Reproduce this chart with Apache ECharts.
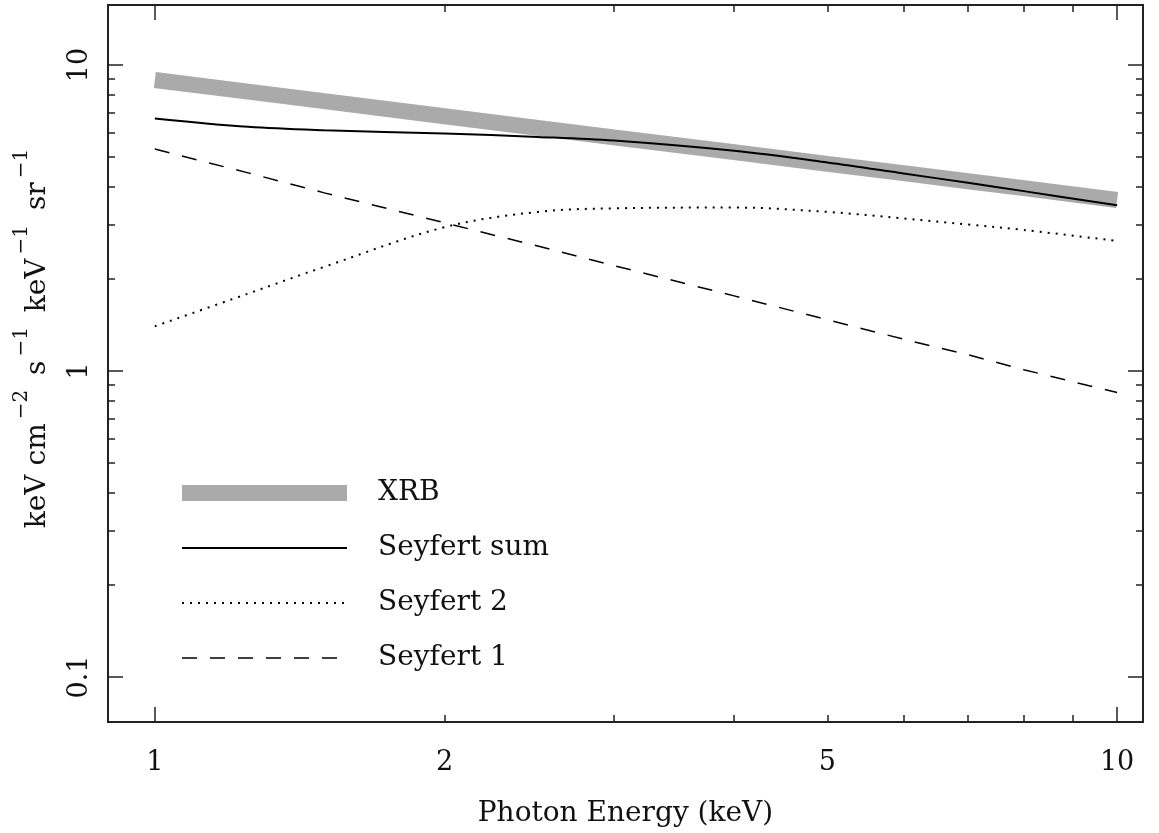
<!DOCTYPE html>
<html>
<head>
<meta charset="utf-8">
<script src="https://cdn.jsdelivr.net/npm/echarts@6/dist/echarts.min.js"></script>
<style>
  html, body { margin: 0; padding: 0; background: #fff; }
  #chart { width: 1159px; height: 833px; }
</style>
</head>
<body>
<div id="chart"></div>
<script>
// photon energy grid (keV) shared by all curves
const energy = [1, 1.25, 1.5, 2, 2.5, 3, 4, 5, 6, 7, 8, 10];

// keV cm^-2 s^-1 keV^-1 sr^-1
const xrb = [8.93, 8.18, 7.62, 6.80, 6.23, 5.80, 5.19, 4.75, 4.43, 4.17, 3.96, 3.62];
const seyfertSum = [6.69, 6.28, 6.12, 5.97, 5.82, 5.66, 5.24, 4.80, 4.42, 4.12, 3.87, 3.48];
const seyfert2 = [1.40, 1.79, 2.19, 2.95, 3.31, 3.40, 3.42, 3.31, 3.15, 3.01, 2.89, 2.66];
const seyfert1 = [5.31, 4.44, 3.82, 3.05, 2.56, 2.21, 1.76, 1.47, 1.27, 1.13, 1.01, 0.85];

const xMajor = [1, 10];
const xMinor = [2, 3, 4, 5, 6, 7, 8, 9];
const xLabels = [1, 2, 5, 10];
const yMajor = [0.1, 1, 10];
const yMinor = [0.2, 0.3, 0.4, 0.5, 0.6, 0.7, 0.8, 0.9, 2, 3, 4, 5, 6, 7, 8, 9];
const yLabels = [0.1, 1, 10];

const FONT = '"DejaVu Serif", "Liberation Serif", serif';
const INK = '#222';

const pairs = (ys) => energy.map((e, i) => [e, ys[i]]);
const fmt = (v) => String(+(+v).toPrecision(3));

const chart = echarts.init(document.getElementById('chart'), null, { renderer: 'canvas' });

function xAxisDef(position, ticks, len, labels, extra) {
    return Object.assign({
        type: 'log',
        logBase: 10,
        position: position,
        min: 0.894,
        max: 10.64,
        axisLine: { show: true, lineStyle: { color: INK, width: 2 } },
        axisTick: { show: true, inside: true, length: len, customValues: ticks, lineStyle: { color: INK, width: 1.5 } },
        axisLabel: labels
            ? { show: true, customValues: labels, formatter: fmt, margin: 27, fontFamily: FONT, fontSize: 27, color: '#111' }
            : { show: false },
        splitLine: { show: false },
        minorTick: { show: false },
    }, extra || {});
}

function yAxisDef(position, ticks, len, labels, extra) {
    return Object.assign({
        type: 'log',
        logBase: 10,
        position: position,
        min: 0.0713,
        max: 15.7,
        axisLine: { show: true, lineStyle: { color: INK, width: 2 } },
        axisTick: { show: true, inside: true, length: len, customValues: ticks, lineStyle: { color: INK, width: 1.5 } },
        axisLabel: labels
            ? { show: true, customValues: labels, formatter: fmt, rotate: 90, margin: 15, fontFamily: FONT, fontSize: 27, color: '#111' }
            : { show: false },
        splitLine: { show: false },
        minorTick: { show: false },
    }, extra || {});
}

const option = {
    backgroundColor: '#fff',
    animation: false,
    grid: { left: 108, right: 16, top: 5, bottom: 111, containLabel: false, outerBoundsMode: 'none' },
    legend: {
        orient: 'vertical',
        left: 169,
        top: 474,
        itemWidth: 165,
        itemHeight: 16,
        itemGap: 27,
        selectedMode: false,
        itemStyle: { opacity: 0 },
        lineStyle: { width: 'inherit' },
        textStyle: { fontFamily: FONT, fontSize: 28, color: '#111', padding: [0, 0, 0, 26] },
        data: ['XRB', 'Seyfert sum', 'Seyfert 2', 'Seyfert 1'],
    },
    xAxis: [
        xAxisDef('bottom', xMajor, 15, xLabels, {
            name: 'Photon Energy (keV)',
            nameLocation: 'middle',
            nameGap: 78,
            nameTextStyle: { fontFamily: FONT, fontSize: 28, color: '#111' },
        }),
        xAxisDef('bottom', xMinor, 7, null),
        xAxisDef('top', xMajor, 15, null),
        xAxisDef('top', xMinor, 7, null),
    ],
    yAxis: [
        yAxisDef('left', yMajor, 15, yLabels, {
            name: '{t|keV cm}{s|−2}{t| s}{s|−1}{t| keV}{s|−1}{t| sr}{s|−1}',
            nameLocation: 'middle',
            nameGap: 56,
            nameRotate: 90,
            nameTextStyle: {
                fontFamily: FONT,
                color: '#111',
                padding: [0, 0, 0, 56],
                rich: {
                    t: { fontFamily: FONT, fontSize: 28, lineHeight: 40, verticalAlign: 'bottom', color: '#111' },
                    s: { fontFamily: FONT, fontSize: 20, lineHeight: 20, padding: [0, 6, 0, 4], verticalAlign: 'top', color: '#111' },
                },
            },
        }),
        yAxisDef('left', yMinor, 7, null),
        yAxisDef('right', yMajor, 15, null),
        yAxisDef('right', yMinor, 7, null),
    ],
    series: [
        {
            name: 'XRB',
            type: 'line',
            symbol: 'none',
            color: '#aaaaaa',
            lineStyle: { width: 16, color: '#aaaaaa', cap: 'butt' },
            data: pairs(xrb),
            z: 1,
        },
        {
            name: 'Seyfert sum',
            type: 'line',
            symbol: 'none',
            smooth: 0.35,
            color: '#000',
            lineStyle: { width: 2, color: '#000' },
            data: pairs(seyfertSum),
            z: 4,
        },
        {
            name: 'Seyfert 2',
            type: 'line',
            symbol: 'none',
            smooth: 0.35,
            color: '#000',
            lineStyle: { width: 2, color: '#000', type: [2, 6], cap: 'butt' },
            data: pairs(seyfert2),
            z: 3,
        },
        {
            name: 'Seyfert 1',
            type: 'line',
            symbol: 'none',
            color: '#000',
            lineStyle: { width: 1.5, color: '#000', type: [15, 13] },
            data: pairs(seyfert1),
            z: 2,
        },
    ],
};

chart.setOption(option);
</script>
</body>
</html>
